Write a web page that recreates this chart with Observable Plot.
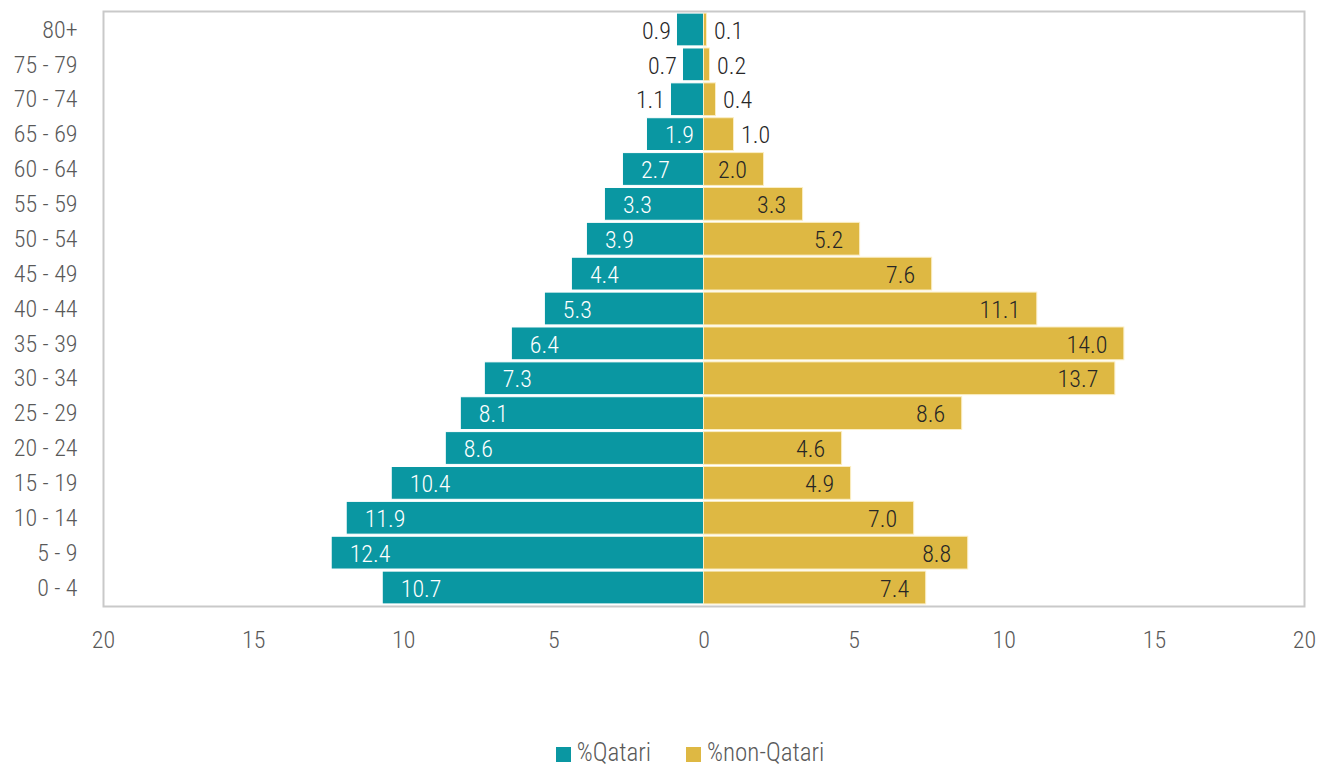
<!DOCTYPE html>
<html>
<head>
<meta charset="utf-8">
<script src="https://cdn.jsdelivr.net/npm/d3@7"></script>
<script src="https://cdn.jsdelivr.net/npm/@observablehq/plot@0.6"></script>
<style>
  body { margin: 0; background: #fff; }
  #chart { width: 1330px; }
  #chart svg { font-stretch: 75%; font-weight: 300; }
  .legend {
    display: flex; justify-content: center; align-items: center;
    gap: 35px; padding-top: 38px; padding-left: 50px;
    font-family: Roboto, sans-serif; font-stretch: 75%; font-weight: 300;
    font-size: 25px; color: #595959;
  }
  .legend span.sw { display: inline-block; width: 15px; height: 15px; margin-right: 6px; vertical-align: -1px; }
</style>
</head>
<body>
<div id="chart"></div>
<script>
// Age groups, oldest at the top
const ageGroups = ["80+", "75 - 79", "70 - 74", "65 - 69", "60 - 64", "55 - 59", "50 - 54", "45 - 49",
  "40 - 44", "35 - 39", "30 - 34", "25 - 29", "20 - 24", "15 - 19", "10 - 14", "5 - 9", "0 - 4"];
// Share of population (%) in each age group
const qatari = [0.9, 0.7, 1.1, 1.9, 2.7, 3.3, 3.9, 4.4, 5.3, 6.4, 7.3, 8.1, 8.6, 10.4, 11.9, 12.4, 10.7];
const nonQatari = [0.1, 0.2, 0.4, 1.0, 2.0, 3.3, 5.2, 7.6, 11.1, 14.0, 13.7, 8.6, 4.6, 4.9, 7.0, 8.8, 7.4];
const xTicks = [-20, -15, -10, -5, 0, 5, 10, 15, 20];

const teal = "#0a97a2";
const gold = "#deb843";
const font = "Roboto, sans-serif";

const rows = ageGroups.map((age, i) => ({age, q: qatari[i], n: nonQatari[i]}));
const fmt = d3.format(".1f");

const chart = Plot.plot({
  width: 1330,
  height: 700,
  marginLeft: 103,
  marginRight: 26,
  marginTop: 11,
  marginBottom: 94,
  style: {fontFamily: font, fontSize: "24px", color: "#595959", background: "white"},
  x: {domain: [-20, 20], ticks: xTicks, tickFormat: d => Math.abs(d), tickSize: 0, tickPadding: 24, label: null},
  y: {domain: ageGroups, padding: 0.06, round: false, tickSize: 0, tickPadding: 26, label: null},
  marks: [
    Plot.barX(rows, {y: "age", x1: 0, x2: d => -d.q, fill: teal, stroke: "white", strokeWidth: 1}),
    Plot.barX(rows, {y: "age", x1: 0, x2: "n", fill: gold, stroke: "#fbeec4", strokeWidth: 1}),
    // value labels: inside the bar end where there is room, outside otherwise
    Plot.text(rows.filter(d => d.q >= 1.5), {y: "age", x: d => -d.q, text: d => fmt(d.q), textAnchor: "start", dx: 18, dy: 1, fill: "white"}),
    Plot.text(rows.filter(d => d.q < 1.5), {y: "age", x: d => -d.q, text: d => fmt(d.q), textAnchor: "end", dx: -6, dy: 1, fill: "#262626"}),
    Plot.text(rows.filter(d => d.n >= 1.5), {y: "age", x: "n", text: d => fmt(d.n), textAnchor: "end", dx: -17, dy: 1, fill: "#262626"}),
    Plot.text(rows.filter(d => d.n < 1.5), {y: "age", x: "n", text: d => fmt(d.n), textAnchor: "start", dx: 7, dy: 1, fill: "#262626"}),
    Plot.frame({stroke: "#c9c9c9", strokeWidth: 2})
  ]
});
document.getElementById("chart").append(chart);

const legend = document.createElement("div");
legend.className = "legend";
legend.innerHTML =
  `<div><span class="sw" style="background:${teal}"></span>%Qatari</div>` +
  `<div><span class="sw" style="background:${gold}"></span>%non-Qatari</div>`;
document.getElementById("chart").append(legend);
</script>
</body>
</html>
